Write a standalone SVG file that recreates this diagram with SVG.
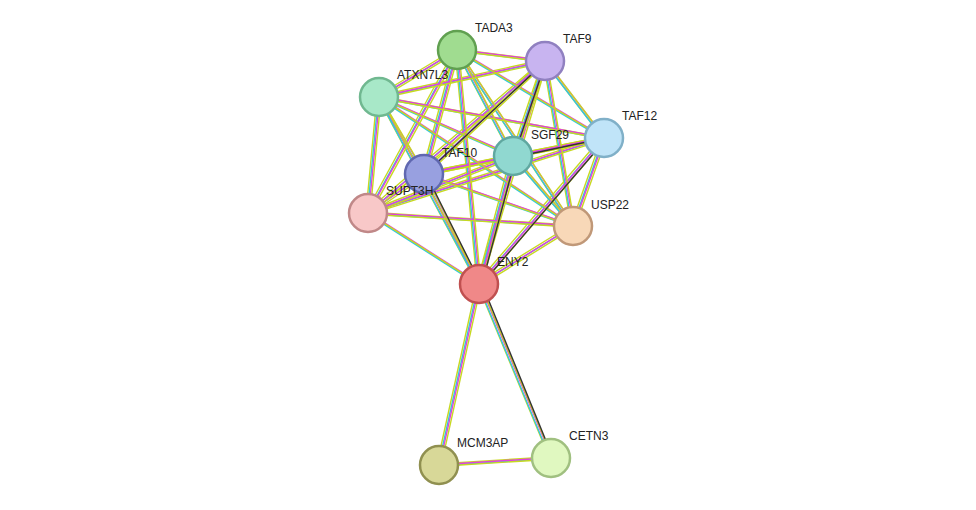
<svg xmlns="http://www.w3.org/2000/svg" xmlns:xlink="http://www.w3.org/1999/xlink" width="976" height="510" viewBox="0 0 976 510">
<style>
.n{stroke-width:2.5}
text{font-family:"Liberation Sans",Arial,sans-serif;font-size:12px;fill:#222}
#base line{stroke-width:1.4}
</style>
<defs>
<g id="base">
<line x1="457" y1="50" x2="545" y2="61"/><line x1="457" y1="50" x2="379" y2="97"/><line x1="457" y1="50" x2="604" y2="138"/><line x1="457" y1="50" x2="513" y2="156"/><line x1="457" y1="50" x2="424" y2="174"/><line x1="457" y1="50" x2="368" y2="213"/><line x1="457" y1="50" x2="573" y2="226"/><line x1="457" y1="50" x2="479" y2="284"/>
<line x1="545" y1="61" x2="379" y2="97"/><line x1="545" y1="61" x2="604" y2="138"/><line x1="545" y1="61" x2="513" y2="156"/><line x1="545" y1="61" x2="424" y2="174"/><line x1="545" y1="61" x2="368" y2="213"/><line x1="545" y1="61" x2="573" y2="226"/><line x1="545" y1="61" x2="479" y2="284"/>
<line x1="379" y1="97" x2="604" y2="138"/><line x1="379" y1="97" x2="513" y2="156"/><line x1="379" y1="97" x2="424" y2="174"/><line x1="379" y1="97" x2="368" y2="213"/><line x1="379" y1="97" x2="573" y2="226"/><line x1="379" y1="97" x2="479" y2="284"/>
<line x1="604" y1="138" x2="513" y2="156"/><line x1="604" y1="138" x2="424" y2="174"/><line x1="604" y1="138" x2="368" y2="213"/><line x1="604" y1="138" x2="573" y2="226"/><line x1="604" y1="138" x2="479" y2="284"/>
<line x1="513" y1="156" x2="424" y2="174"/><line x1="513" y1="156" x2="368" y2="213"/><line x1="513" y1="156" x2="573" y2="226"/><line x1="513" y1="156" x2="479" y2="284"/>
<line x1="424" y1="174" x2="368" y2="213"/><line x1="424" y1="174" x2="573" y2="226"/><line x1="424" y1="174" x2="479" y2="284"/>
<line x1="368" y1="213" x2="573" y2="226"/><line x1="368" y1="213" x2="479" y2="284"/>
<line x1="573" y1="226" x2="479" y2="284"/>
<line x1="479" y1="284" x2="439" y2="465"/><line x1="479" y1="284" x2="551" y2="458"/><line x1="439" y1="465" x2="551" y2="458"/>
</g>
</defs>
<g id="connectors">
<use xlink:href="#base" stroke="#c8d820" transform="translate(-2,-1)"/>
<use xlink:href="#base" stroke="#30c8e0" transform="translate(-0.7,0.7)"/>
<use xlink:href="#base" stroke="#e040e0" transform="translate(0.7,-0.3)"/>
<use xlink:href="#base" stroke="#c8d820" transform="translate(2,1.2)"/>
<g stroke="#333" stroke-width="1.4">
<line x1="546" y1="61" x2="425" y2="174"/><line x1="546" y1="61" x2="514" y2="156"/><line x1="516" y1="156" x2="482" y2="284"/><line x1="426" y1="174" x2="481" y2="284"/><line x1="482" y1="284" x2="553" y2="458"/><line x1="606" y1="138" x2="515" y2="157"/><line x1="606" y1="139" x2="481" y2="285"/>
</g>
</g>
<g id="TADA3"><circle class="n" cx="457" cy="50" r="19" fill="#a0dc90" stroke="#60a050"/><text x="475" y="32">TADA3</text></g>
<g id="TAF9"><circle class="n" cx="545" cy="61" r="19" fill="#c8b4f0" stroke="#9080c0"/><text x="563" y="43">TAF9</text></g>
<g id="ATXN7L3"><circle class="n" cx="379" cy="97" r="19" fill="#a8e8c8" stroke="#70b890"/><text x="397" y="79">ATXN7L3</text></g>
<g id="TAF12"><circle class="n" cx="604" cy="138" r="19" fill="#c0e4f8" stroke="#80b0c8"/><text x="622" y="120">TAF12</text></g>
<g id="SGF29"><circle class="n" cx="513" cy="156" r="19" fill="#90d8d0" stroke="#60a8a0"/><text x="531" y="139">SGF29</text></g>
<g id="TAF10"><circle class="n" cx="424" cy="174" r="19" fill="#98a0e0" stroke="#6068b0"/><text x="442" y="157">TAF10</text></g>
<g id="SUPT3H"><circle class="n" cx="368" cy="213" r="19" fill="#f8c8c8" stroke="#c08888"/><text x="386" y="195">SUPT3H</text></g>
<g id="USP22"><circle class="n" cx="573" cy="226" r="19" fill="#f8d8b8" stroke="#c09878"/><text x="591" y="209">USP22</text></g>
<g id="ENY2"><circle class="n" cx="479" cy="284" r="19" fill="#f08888" stroke="#c05050"/><text x="497" y="266">ENY2</text></g>
<g id="MCM3AP"><circle class="n" cx="439" cy="465" r="19" fill="#d8d898" stroke="#909050"/><text x="457" y="447">MCM3AP</text></g>
<g id="CETN3"><circle class="n" cx="551" cy="458" r="19" fill="#e0f8c0" stroke="#a0c080"/><text x="569" y="440">CETN3</text></g>
</svg>
